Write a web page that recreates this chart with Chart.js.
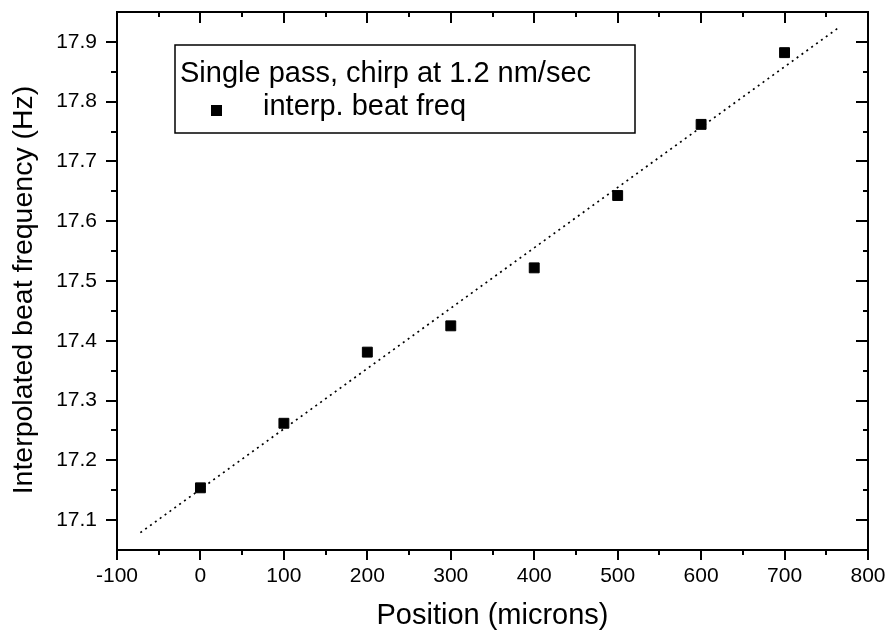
<!DOCTYPE html>
<html>
<head>
<meta charset="utf-8">
<script src="https://cdn.jsdelivr.net/npm/chart.js"></script>
<style>
html,body{margin:0;padding:0;background:#fff;}
#caja{width:889px;height:633px;}
</style>
</head>
<body>
<div id="caja"><canvas id="Grafico1"></canvas></div>
<script>
// datos
let posicion=[0,100,200,300,400,500,600,700];
let frecuencia=[17.154,17.262,17.381,17.425,17.522,17.643,17.762,17.882];
// recta de ajuste (extremos)
let ajusteX=[-72,765];
let ajusteY=[17.079,17.924];
let ticksX=[-100,0,100,200,300,400,500,600,700,800];
let menoresX=[-50,50,150,250,350,450,550,650,750];
let ticksY=[17.1,17.2,17.3,17.4,17.5,17.6,17.7,17.8,17.9];
let menoresY=[17.15,17.25,17.35,17.45,17.55,17.65,17.75,17.85];
let tituloLeyenda='Single pass, chirp at 1.2 nm/sec';
let serie='interp. beat freq';
let tituloY='Interpolated beat frequency (Hz)';

let fuente='"Liberation Sans", Arial, sans-serif';

const marco={
    id:'marco',
    afterDatasetsDraw(chart){
        let ctx=chart.ctx;
        let a=chart.chartArea;
        let sx=chart.scales.x;
        let sy=chart.scales.y;
        ctx.save();
        ctx.strokeStyle='#000';
        ctx.lineWidth=2;
        ctx.strokeRect(a.left,a.top,a.right-a.left,a.bottom-a.top);
        ctx.beginPath();
        ticksX.forEach(v=>{
            let px=Math.round(sx.getPixelForValue(v));
            ctx.moveTo(px,a.bottom);ctx.lineTo(px,a.bottom+10);
            ctx.moveTo(px,a.top);ctx.lineTo(px,a.top+11);
        });
        menoresX.forEach(v=>{
            let px=Math.round(sx.getPixelForValue(v));
            ctx.moveTo(px,a.bottom);ctx.lineTo(px,a.bottom+5);
            ctx.moveTo(px,a.top);ctx.lineTo(px,a.top+5);
        });
        ticksY.forEach(v=>{
            let py=Math.round(sy.getPixelForValue(v));
            ctx.moveTo(a.left-11,py);ctx.lineTo(a.left,py);
            ctx.moveTo(a.right-12,py);ctx.lineTo(a.right,py);
        });
        menoresY.forEach(v=>{
            let py=Math.round(sy.getPixelForValue(v));
            ctx.moveTo(a.left-6,py);ctx.lineTo(a.left,py);
            ctx.moveTo(a.right-5,py);ctx.lineTo(a.right,py);
        });
        ctx.stroke();

        // leyenda dentro del area
        let lx=a.left+58, ly=a.top+33;
        ctx.lineWidth=1.5;
        ctx.strokeRect(lx,ly,460,88);
        ctx.fillStyle='#000';
        ctx.font='29px '+fuente;
        ctx.textBaseline='alphabetic';
        ctx.textAlign='left';
        ctx.fillText(tituloLeyenda,lx+5,ly+37);
        ctx.fillText(chart.data.datasets[0].label,lx+88,ly+70);
        ctx.fillRect(lx+36,ly+60,11,11);

        // titulo del eje y, un poco bajo el centro como en el original
        ctx.translate(24,(a.top+a.bottom)/2+9);
        ctx.rotate(-Math.PI/2);
        ctx.font='28.5px '+fuente;
        ctx.textAlign='center';
        ctx.textBaseline='middle';
        ctx.fillText(tituloY,0,0);
        ctx.restore();
    }
};

let canvasG1=document.getElementById('Grafico1').getContext('2d');
let datos={
    datasets:[{
        label:serie,
        data:posicion.map((x,i)=>({x:x,y:frecuencia[i]})),
        pointStyle:'rect',
        pointRadius:7,
        backgroundColor:'#000',
        borderColor:'#000',
        borderWidth:1,
        order:1
    },{
        label:'ajuste',
        type:'line',
        data:ajusteX.map((x,i)=>({x:x,y:ajusteY[i]})),
        borderColor:'#000',
        borderWidth:1.7,
        borderDash:[2,4],
        pointRadius:0,
        fill:false,
        order:2
    }]
};
let opciones={
    responsive:true,
    maintainAspectRatio:false,
    animation:false,
    layout:{padding:0},
    plugins:{legend:{display:false},tooltip:{enabled:false}},
    scales:{
        x:{
            type:'linear',min:-100,max:800,
            afterBuildTicks:s=>{s.ticks=ticksX.map(v=>({value:v}));},
            afterFit:s=>{s.height=83;s.paddingLeft=0;s.paddingRight=21;},
            grid:{display:false,drawTicks:false},
            border:{display:false},
            ticks:{padding:14,color:'#000',autoSkip:false,maxRotation:0,
                font:{family:fuente,size:21},callback:v=>String(v)},
            title:{display:true,text:'Position (microns)',color:'#000',
                font:{family:fuente,size:29},padding:{top:0,bottom:0}}
        },
        y:{
            type:'linear',min:17.05,max:17.95,
            afterBuildTicks:s=>{s.ticks=ticksY.map(v=>({value:v}));},
            afterFit:s=>{s.width=117;s.paddingTop=12;s.paddingBottom=0;},
            grid:{display:false,drawTicks:false},
            border:{display:false},
            ticks:{padding:20,color:'#000',autoSkip:false,
                font:{family:fuente,size:21},callback:v=>Number(v).toFixed(1)},
            title:{display:false}
        }
    }
};
let G1=new Chart(canvasG1,{
    type:'scatter',
    data:datos,
    options:opciones,
    plugins:[marco]
});
</script>
</body>
</html>
